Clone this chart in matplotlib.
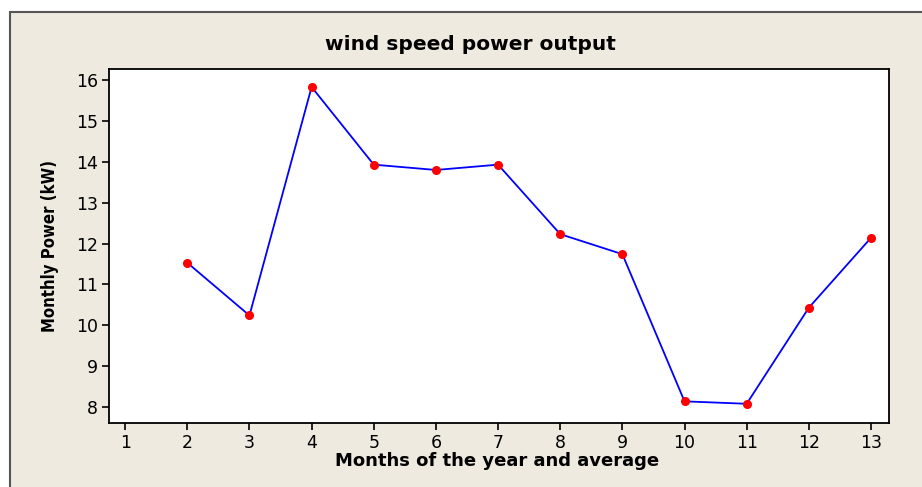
import matplotlib
matplotlib.use("Agg")
import matplotlib.pyplot as plt
from matplotlib.patches import Rectangle

months = [2, 3, 4, 5, 6, 7, 8, 9, 10, 11, 12, 13]
power = [11.53, 10.24, 15.83, 13.93, 13.80, 13.93, 12.23, 11.74, 8.14, 8.08, 10.43, 12.14]
xticks = list(range(1, 14))
yticks = [8, 9, 10, 11, 12, 13, 14, 15, 16]

W, H = 922, 487
fig = plt.figure(figsize=(W / 100, H / 100), dpi=100)
fig.patch.set_facecolor("white")

bgax = fig.add_axes([0, 0, 1, 1], zorder=-5)
bgax.set_xlim(0, W)
bgax.set_ylim(H, 0)
bgax.axis("off")
bgax.add_patch(Rectangle((9.5, 11.5), W + 20, H + 20, facecolor="#EEEAE0",
                         edgecolor="#555555", linewidth=1.5))

ax = fig.add_axes([109 / W, 1 - 423 / H, (889 - 109) / W, (423 - 69) / H], zorder=1)
ax.set_facecolor("white")
ax.plot(months, power, color="#0000FF", linewidth=1.3, zorder=2)
ax.plot(months, power, linestyle="none", marker="o", markersize=5.5,
        markerfacecolor="#FF0000", markeredgecolor="#FF0000", zorder=3)

ax.set_xlim(0.74, 13.29)
ax.set_ylim(7.61, 16.27)
ax.set_xticks(xticks)
ax.set_yticks(yticks)
ax.tick_params(direction="out", length=5, width=1.2, labelsize=12.5, colors="black", pad=3)
ax.tick_params(top=False, right=False)
for s in ax.spines.values():
    s.set_color("black")
    s.set_linewidth(1.3)

fig.text(470 / W, 1 - 44 / H, "wind speed power output", ha="center", va="center",
         fontsize=14.5, fontweight="bold")
fig.text(497 / W, 1 - 461 / H, "Months of the year and average", ha="center", va="center",
         fontsize=13, fontweight="bold")
fig.text(50 / W, 1 - 246 / H, "Monthly Power (kW)", ha="center", va="center",
         rotation=90, fontsize=12, fontweight="bold", fontstretch="condensed")

fig.savefig("out.png", dpi=100, facecolor=fig.get_facecolor())
